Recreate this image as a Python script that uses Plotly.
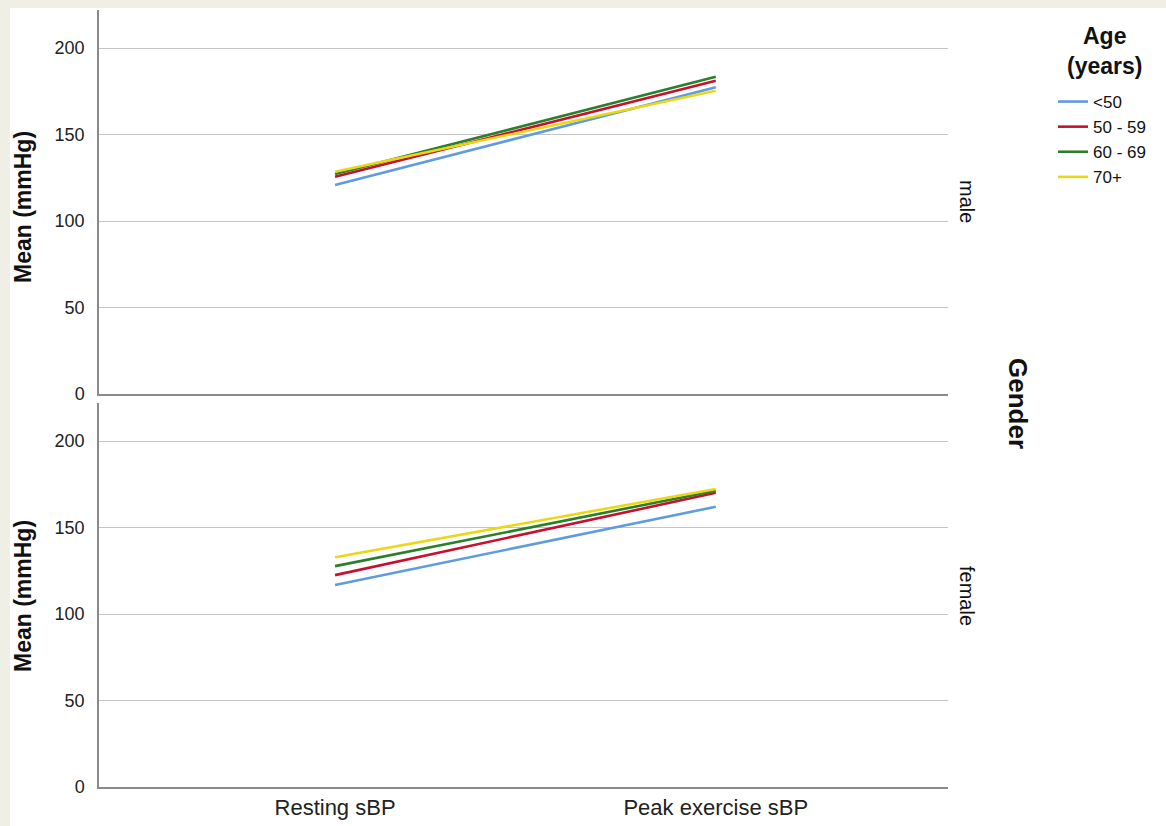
import plotly.graph_objects as go

W, H = 1166, 826
categories = ["Resting sBP", "Peak exercise sBP"]
age_groups = ["<50", "50 - 59", "60 - 69", "70+"]
colors = ["#5f9be0", "#c8102e", "#2a7f2a", "#ecd812"]
male = {
    "<50": [120.8, 177.3],
    "50 - 59": [125.6, 181.1],
    "60 - 69": [127.2, 183.4],
    "70+": [128.5, 175.3],
}
female = {
    "<50": [116.8, 162.0],
    "50 - 59": [122.5, 170.1],
    "60 - 69": [127.7, 171.3],
    "70+": [132.8, 172.3],
}
y_ticks = [0, 50, 100, 150, 200]

FONT = "Liberation Sans, Arial, sans-serif"
fig = go.Figure()
for g, c in zip(age_groups, colors):
    fig.add_trace(go.Scatter(x=categories, y=male[g], mode="lines", name=g,
                             line=dict(color=c, width=2.6), xaxis="x2", yaxis="y2",
                             legendgroup=g, showlegend=True))
    fig.add_trace(go.Scatter(x=categories, y=female[g], mode="lines", name=g,
                             line=dict(color=c, width=2.6), xaxis="x", yaxis="y",
                             legendgroup=g, showlegend=False))

def px_x(p): return p / W
def px_y(p): return 1 - p / H

xdom = [px_x(99), px_x(948)]
common_y = dict(range=[0, 222], tickvals=y_ticks, showgrid=True, gridcolor="#c4c4c4",
                gridwidth=1, showline=True, linecolor="#8a8a8a", linewidth=1.5,
                zeroline=False, ticks="", ticklabelstandoff=9, automargin=False,
                tickfont=dict(size=18, color="#222", family=FONT))
common_x = dict(type="category", range=[-0.62, 1.61], showgrid=False, zeroline=False,
                showline=True, linecolor="#8a8a8a", linewidth=1.5, ticks="", automargin=False)

def ann(text, x, y, size, angle=0, bold=False):
    return dict(text=f"<b>{text}</b>" if bold else text, xref="paper", yref="paper",
                x=px_x(x), y=px_y(y), xanchor="center", yanchor="middle", textangle=angle,
                showarrow=False, align="center", font=dict(size=size, color="#111", family=FONT))

fig.update_layout(
    width=W, height=H, margin=dict(l=0, r=0, t=0, b=0, autoexpand=False),
    paper_bgcolor="#f0efe6", plot_bgcolor="white",
    font=dict(family=FONT),
    xaxis=dict(domain=xdom, anchor="y", tickfont=dict(size=22, color="#222", family=FONT),
               ticklabelstandoff=0, **common_x),
    yaxis=dict(domain=[px_y(787), px_y(403)], anchor="x", **common_y),
    xaxis2=dict(domain=xdom, anchor="y2", matches="x", showticklabels=False, **common_x),
    yaxis2=dict(domain=[px_y(394), px_y(10)], anchor="x2", **common_y),
    showlegend=True,
    legend=dict(x=px_x(1053), y=px_y(84), xanchor="left", yanchor="top",
                bgcolor="rgba(0,0,0,0)", font=dict(size=17, color="#111", family=FONT),
                tracegroupgap=0, itemwidth=30),
    shapes=[dict(type="rect", xref="paper", yref="paper", x0=px_x(10), x1=1, y0=0, y1=px_y(8),
                 fillcolor="white", line=dict(width=0), layer="below")],
    annotations=[
        ann("Age<br>(years)", 1104, 51, 23, bold=True),
        ann("Mean (mmHg)", 23, 207, 23, angle=-90, bold=True),
        ann("Mean (mmHg)", 23, 596, 23, angle=-90, bold=True),
        ann("male", 967, 201, 20, angle=90),
        ann("female", 967, 596, 20, angle=90),
        ann("Gender", 1018, 403, 26, angle=90, bold=True),
    ],
)
fig.write_html("out.html")
